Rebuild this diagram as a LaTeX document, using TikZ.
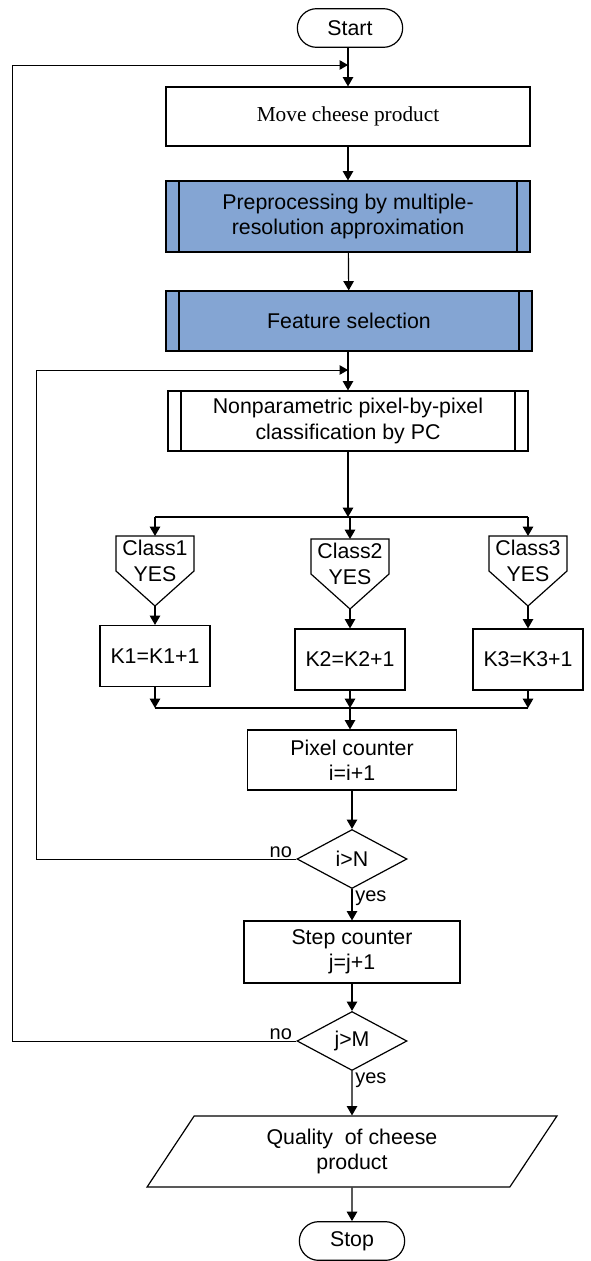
\documentclass[tikz,border=0pt]{standalone}
\usepackage{fontspec}
\setmainfont{Liberation Sans}
\newfontfamily\serifface{Liberation Serif}
\usetikzlibrary{arrows,shapes.geometric,shapes.misc}
\definecolor{procblue}{HTML}{84A5D3}
\newcommand\bodysize{\fontsize{16}{19}\selectfont}
\tikzstyle{every node}=[font=\bodysize]

\begin{document}
\begin{tikzpicture}[>=triangle 60,x=0.75pt,y=-0.75pt,line width=0.9pt]
\tikzset{box/.style={draw,rectangle,inner sep=2pt,align=center},
  subproc/.style={box,path picture={
    \draw[line width=1.3pt] ([xshift=10pt]path picture bounding box.north west) -- ([xshift=10pt]path picture bounding box.south west);
    \draw[line width=1.3pt] ([xshift=-10pt]path picture bounding box.north east) -- ([xshift=-10pt]path picture bounding box.south east);}},
  term/.style={draw,rounded rectangle,inner sep=2pt,minimum width=83pt,minimum height=29pt},
  cond/.style={draw,diamond,inner sep=0pt,minimum width=82.5pt,minimum height=44.25pt},
  kbox/.style={box,minimum width=82.5pt,minimum height=45.75pt},
  loopline/.style={line width=0.7pt},
  lbl/.style={inner sep=1pt,font=\fontsize{15}{18}\selectfont}}
\useasboundingbox (0,0) rectangle (590,1261);

% main column
\node[term] (start) at (350,28) {Start};
\node[box,minimum width=273pt,minimum height=44.25pt,font=\serifface\bodysize] (move) at (348,116.5) {Move cheese product};
\node[subproc,fill=procblue,minimum width=273pt,minimum height=53.25pt] (prep) at (348,216.5) {Preprocessing by multiple-\\resolution approximation};
\node[subproc,fill=procblue,minimum width=274.5pt,minimum height=45pt] (feat) at (349,321) {Feature selection};
\node[subproc,minimum width=270pt,minimum height=45pt] (nonp) at (348,421) {Nonparametric pixel-by-pixel\\classification by PC};

% classes
\draw (116,536) -- (194,536) -- (194,571) -- (155,606) -- (116,571) -- cycle;
\draw (311,539) -- (389,539) -- (389,574) -- (350,609) -- (311,574) -- cycle;
\draw (489,536) -- (567,536) -- (567,571) -- (528,606) -- (489,571) -- cycle;
\node[align=center,inner sep=0pt] (cls1) at (155,561) {Class1\\YES};
\node[align=center,inner sep=0pt] (cls2) at (350,564) {Class2\\YES};
\node[align=center,inner sep=0pt] (cls3) at (528,561) {Class3\\YES};
\coordinate (top1) at (155,536);
\coordinate (top2) at (350,539);
\coordinate (top3) at (528,536);
\coordinate (tip1) at (155,606);
\coordinate (tip2) at (350,609);
\coordinate (tip3) at (528,606);

\node[kbox] (k1) at (155,656) {K1=K1+1};
\node[kbox] (k2) at (350,659.5) {K2=K2+1};
\node[kbox] (k3) at (528,659.5) {K3=K3+1};

\node[box,minimum width=156.75pt,minimum height=45pt] (pix) at (352,760) {Pixel counter\\i=i+1};
\node[cond] (dN) at (352,859) {i>N};
\node[box,minimum width=162pt,minimum height=46.5pt] (stepc) at (352,952) {Step counter\\j=j+1};
\node[cond] (dM) at (352,1041) {j>M};
\node[draw,trapezium,trapezium left angle=60.6,trapezium right angle=119.4,trapezium stretches=true,
  minimum width=307.5pt,minimum height=53.25pt,inner sep=0pt,align=center] (qual) at (352,1151.5) {Quality\ \ of cheese\\product};
\node[term] (stop) at (352,1241) {Stop};

% junctions
\coordinate (fb1) at (348,65);
\coordinate (fb2) at (348,370);
\coordinate (loopM) at (12,65);
\coordinate (loopN) at (36,370);
\coordinate (splt) at (348,517);
\coordinate (sl) at (155,517);
\coordinate (sr) at (528,517);
\coordinate (mrg) at (350,708);
\coordinate (ml) at (155,708);
\coordinate (mr) at (528,708);

% connectors
\draw[->] (start.south -| move) -- (move);
\draw[->] (move) -- (prep);
\draw[->] (prep) -- (feat);
\draw[->] (feat.south -| nonp) -- (nonp);
\draw[->] (nonp) -- (splt);
\draw (sl) -- (sr);
\draw[->] (sl) -- (top1);
\draw[->] (splt -| top2) -- (top2);
\draw[->] (sr) -- (top3);
\draw[->] (tip1) -- (k1);
\draw[->] (tip2) -- (k2);
\draw[->] (tip3) -- (k3);
\draw[->] (k1) -- (ml);
\draw[->] (k2) -- (mrg);
\draw[->] (k3) -- (mr);
\draw (ml) -- (mr);
\draw[->] (mrg) -- (mrg |- pix.north);
\draw[->] (pix) -- (dN);
\draw[->] (dN) -- node[lbl,anchor=north west,pos=0,xshift=1pt]{yes} (stepc);
\draw[->] (stepc) -- (dM);
\draw[->] (dM) -- node[lbl,anchor=north west,pos=0,xshift=1pt]{yes} (qual);
\draw[->] (qual) -- (stop);

% loops back
\draw[->,loopline] (dN.west) -- node[lbl,anchor=south east,pos=0,xshift=-2pt]{no} (dN.west -| loopN) -- (loopN) -- (fb2);
\draw[->,loopline] (dM.west) -- node[lbl,anchor=south east,pos=0,xshift=-2pt]{no} (dM.west -| loopM) -- (loopM) -- (fb1);

\end{tikzpicture}
\end{document}
